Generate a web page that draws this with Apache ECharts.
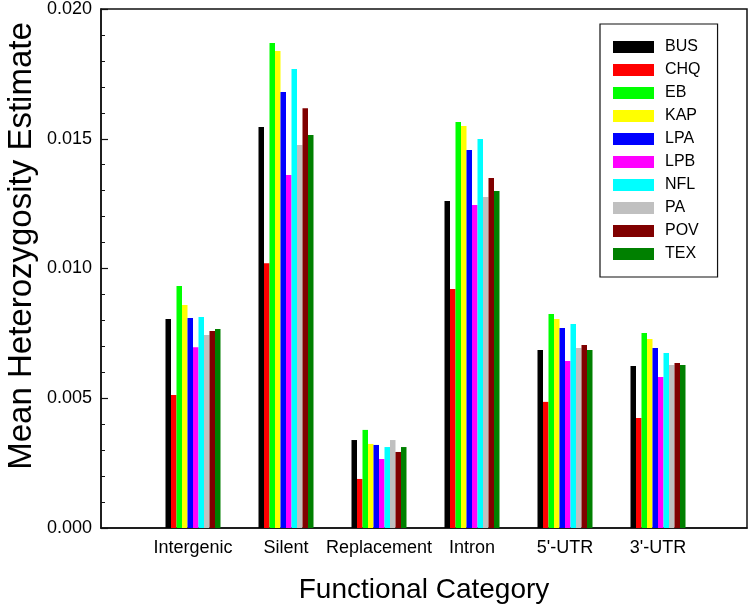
<!DOCTYPE html>
<html>
<head>
<meta charset="utf-8">
<script src="https://cdn.jsdelivr.net/npm/echarts@6/dist/echarts.min.js"></script>
<style>html,body{margin:0;padding:0;background:#fff;}#chart{width:750px;height:609px;}</style>
</head>
<body>
<div id="chart"></div>
<script>
const categories = ['Intergenic', 'Silent', 'Replacement', 'Intron', "5'-UTR", "3'-UTR"];
const seriesNames = ['BUS', 'CHQ', 'EB', 'KAP', 'LPA', 'LPB', 'NFL', 'PA', 'POV', 'TEX'];
const seriesColors = ['#000000', '#ff0000', '#00ff00', '#ffff00', '#0000ff', '#ff00ff', '#00ffff', '#c0c0c0', '#800000', '#008000'];
const BUS = [0.00805, 0.01545, 0.00339, 0.01260, 0.00686, 0.00624];
const CHQ = [0.00513, 0.01020, 0.00189, 0.00921, 0.00486, 0.00424];
const EB  = [0.00933, 0.01869, 0.00378, 0.01565, 0.00825, 0.00751];
const KAP = [0.00859, 0.01838, 0.00324, 0.01549, 0.00805, 0.00728];
const LPA = [0.00809, 0.01680, 0.00320, 0.01457, 0.00771, 0.00694];
const LPB = [0.00697, 0.01360, 0.00266, 0.01245, 0.00644, 0.00582];
const NFL = [0.00813, 0.01769, 0.00312, 0.01499, 0.00786, 0.00674];
const PA  = [0.00744, 0.01476, 0.00339, 0.01276, 0.00694, 0.00628];
const POV = [0.00759, 0.01618, 0.00293, 0.01349, 0.00705, 0.00636];
const TEX = [0.00767, 0.01514, 0.00312, 0.01299, 0.00686, 0.00628];
const seriesValues = [BUS, CHQ, EB, KAP, LPA, LPB, NFL, PA, POV, TEX];
const yTicks = [0, 0.005, 0.01, 0.015, 0.02];
const yTitle = 'Mean Heterozygosity Estimate';
const xTitle = 'Functional Category';

const FONT = '"Liberation Sans", Arial, sans-serif';
const chart = echarts.init(document.getElementById('chart'), null, {renderer: 'canvas'});
const series = seriesNames.map((n, i) => ({
  name: n, type: 'bar', xAxisIndex: 1, yAxisIndex: 1,
  data: seriesValues[i], barWidth: 5.5, barGap: '0%',
  itemStyle: {color: seriesColors[i]}, emphasis: {disabled: true}
}));
chart.setOption({
  animation: false,
  backgroundColor: '#fff',
  textStyle: {fontFamily: FONT},
  grid: [
    {left: 101, right: 3, top: 9, bottom: 81, outerBoundsMode: 'none', containLabel: false,
     show: true, borderColor: '#111', borderWidth: 1.5, backgroundColor: 'transparent'},
    {left: 146.5, width: 558, top: 9, bottom: 81, outerBoundsMode: 'none', containLabel: false}
  ],
  xAxis: [
    {gridIndex: 0, type: 'value', min: 0, max: 1,
     axisLine: {show: true, lineStyle: {color: '#111', width: 1.5}},
     axisTick: {show: false}, axisLabel: {show: false}, splitLine: {show: false},
     name: xTitle, nameLocation: 'middle', nameGap: 48,
     nameTextStyle: {fontSize: 28, color: '#000', fontFamily: FONT}},
    {gridIndex: 1, type: 'category', data: categories,
     axisLine: {show: false}, axisTick: {show: false},
     axisLabel: {fontSize: 18, color: '#000', margin: 11, interval: 0, hideOverlap: false, fontFamily: FONT}}
  ],
  yAxis: [
    {gridIndex: 0, type: 'value', min: yTicks[0], max: yTicks[yTicks.length - 1], interval: 0.005,
     axisLine: {show: true, lineStyle: {color: '#111', width: 1.5}},
     axisTick: {show: true, inside: true, length: 7, lineStyle: {color: '#111', width: 1.2}},
     minorTick: {show: true, splitNumber: 5, length: 4, lineStyle: {color: '#111', width: 1}},
     splitLine: {show: false},
     axisLabel: {fontSize: 18, color: '#000', margin: 9, fontFamily: FONT, formatter: v => v.toFixed(3)}},
    {gridIndex: 1, type: 'value', min: yTicks[0], max: yTicks[yTicks.length - 1], show: false}
  ],
  graphic: [
    {type: 'text', x: 22, y: 246, rotation: Math.PI / 2, silent: true,
     style: {text: yTitle, fontSize: 33, fontFamily: FONT, fill: '#000', align: 'center', verticalAlign: 'middle'}}
  ],
  legend: {
    orient: 'vertical', left: 600, top: 24,
    data: seriesNames, icon: 'rect', itemWidth: 41, itemHeight: 12, itemGap: 7,
    padding: [15, 17, 15, 13], borderColor: '#111', borderWidth: 1.2, backgroundColor: '#fff',
    textStyle: {fontSize: 16, lineHeight: 16, color: '#000', fontFamily: FONT, padding: [0, 0, 0, 6]},
    selectedMode: false
  },
  series: series
});
</script>
</body>
</html>
